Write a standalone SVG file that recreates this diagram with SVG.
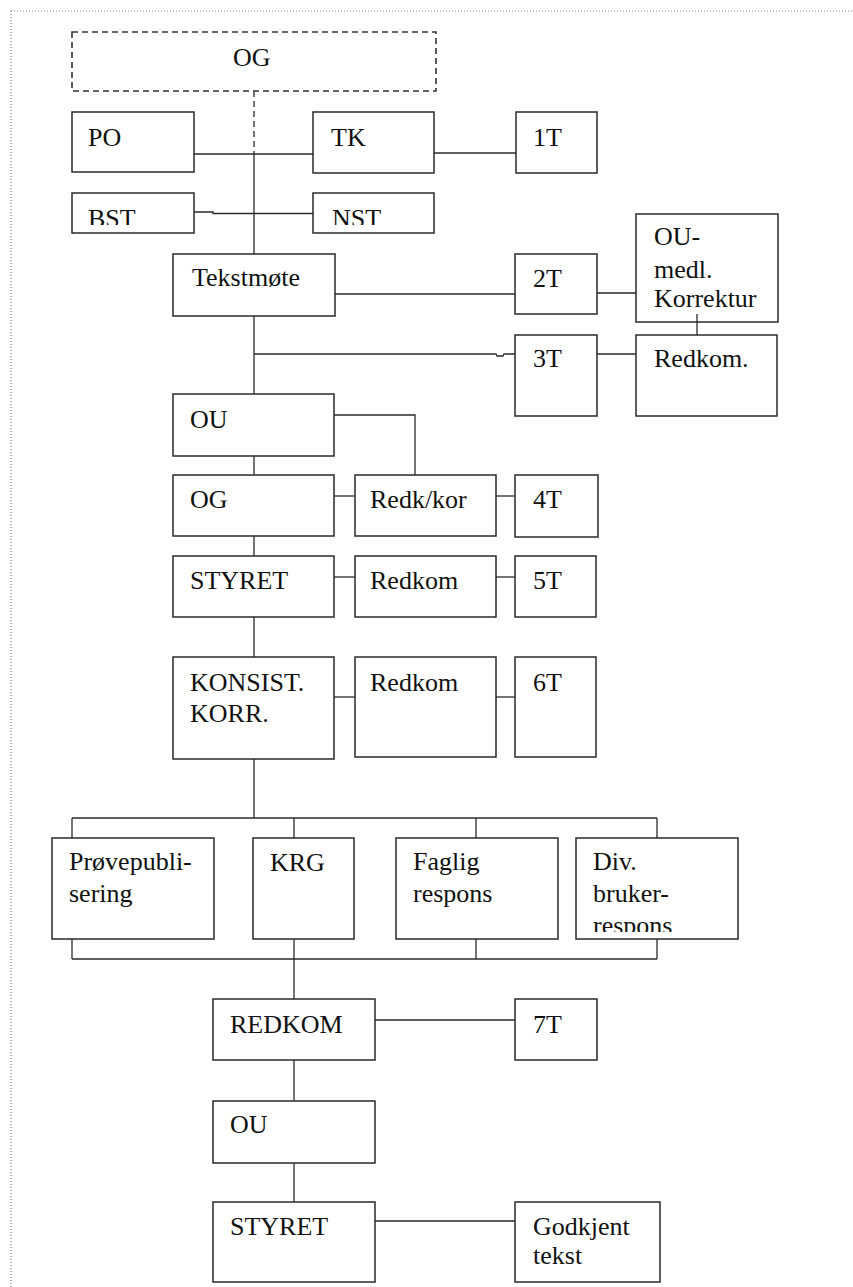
<svg xmlns="http://www.w3.org/2000/svg" width="853" height="1287" viewBox="0 0 853 1287">
<style>
.b{fill:#fff;stroke:#2a2a2a;stroke-width:1.5}
.d{fill:#fff;stroke:#333;stroke-width:1.6;stroke-dasharray:6,4}
.t{font-family:"Liberation Serif","Times New Roman",serif;font-size:26px;fill:#111}
.c line,.c polyline{stroke:#2a2a2a;stroke-width:1.3;fill:none}
</style>
<defs>
<clipPath id="cBST"><rect x="72" y="193" width="122" height="32"/></clipPath>
<clipPath id="cNST"><rect x="313" y="193" width="121" height="32"/></clipPath>
<clipPath id="cDiv"><rect x="576" y="838" width="162" height="94"/></clipPath>
</defs>
<rect width="853" height="1287" fill="#fff"/>
<g id="border" stroke="#888" stroke-width="1.2" stroke-dasharray="1,2" fill="none">
<line x1="11" y1="11" x2="853" y2="11"/>
<line x1="11" y1="11" x2="11" y2="1287"/>
</g>
<g class="c" id="connectors">
<line x1="254" y1="91" x2="254" y2="154" stroke-dasharray="6,4"/>
<line x1="254" y1="154" x2="254" y2="254"/>
<line x1="194" y1="154" x2="316" y2="154"/>
<line x1="434" y1="153" x2="516" y2="153"/>
<polyline points="194,212 213,212 213,213.5 313,213.5"/>
<line x1="335" y1="294" x2="516" y2="294"/>
<line x1="597" y1="293" x2="636" y2="293"/>
<line x1="697" y1="314" x2="697" y2="335"/>
<line x1="254" y1="316" x2="254" y2="394"/>
<polyline points="254,354 496,354 497,356 503,356 504,354 516,354"/>
<line x1="597" y1="354" x2="636" y2="354"/>
<polyline points="334,415 415,415 415,475"/>
<line x1="254" y1="456" x2="254" y2="475"/>
<line x1="334" y1="496" x2="355" y2="496"/>
<line x1="496" y1="496" x2="515" y2="496"/>
<line x1="254" y1="536" x2="254" y2="556"/>
<line x1="334" y1="577" x2="355" y2="577"/>
<line x1="496" y1="577" x2="515" y2="577"/>
<line x1="254" y1="617" x2="254" y2="657"/>
<line x1="334" y1="697" x2="355" y2="697"/>
<line x1="496" y1="697" x2="515" y2="697"/>
<line x1="254" y1="757" x2="254" y2="818"/>
<line x1="72" y1="818" x2="657" y2="818"/>
<line x1="72" y1="818" x2="72" y2="838"/>
<line x1="294" y1="818" x2="294" y2="838"/>
<line x1="476" y1="818" x2="476" y2="838"/>
<line x1="657" y1="818" x2="657" y2="838"/>
<line x1="72" y1="959" x2="657" y2="959"/>
<line x1="72" y1="939" x2="72" y2="959"/>
<line x1="294" y1="939" x2="294" y2="999"/>
<line x1="476" y1="939" x2="476" y2="959"/>
<line x1="657" y1="939" x2="657" y2="959"/>
<line x1="375" y1="1020" x2="515" y2="1020"/>
<line x1="294" y1="1060" x2="294" y2="1101"/>
<line x1="294" y1="1163" x2="294" y2="1202"/>
<line x1="375" y1="1221" x2="515" y2="1221"/>
</g>
<g id="og-top"><rect class="d" x="72" y="32" width="364" height="59"/><text class="t" x="233" y="66">OG</text></g>
<g id="po"><rect class="b" x="72" y="112" width="122" height="60"/><text class="t" x="88" y="146">PO</text></g>
<g id="tk"><rect class="b" x="313" y="112" width="121" height="61"/><text class="t" x="331" y="146">TK</text></g>
<g id="t1"><rect class="b" x="516" y="112" width="81" height="61"/><text class="t" x="533" y="146">1T</text></g>
<g id="bst"><rect class="b" x="72" y="193" width="122" height="40"/><text class="t" x="88" y="227" clip-path="url(#cBST)">BST</text></g>
<g id="nst"><rect class="b" x="313" y="193" width="121" height="40"/><text class="t" x="332" y="227" clip-path="url(#cNST)">NST</text></g>
<g id="tekstmote"><rect class="b" x="173" y="254" width="162" height="62"/><text class="t" x="192" y="286">Tekstmøte</text></g>
<g id="t2"><rect class="b" x="515" y="254" width="82" height="60"/><text class="t" x="533" y="287">2T</text></g>
<g id="oumedl"><rect class="b" x="636" y="214" width="142" height="108"/><text class="t" x="654" y="245">OU-</text><text class="t" x="654" y="278">medl.</text><text class="t" x="654" y="307">Korrektur</text></g>
<line x1="697" y1="314" x2="697" y2="322" stroke="#2a2a2a" stroke-width="1.3"/>
<g id="t3"><rect class="b" x="515" y="335" width="82" height="81"/><text class="t" x="533" y="367">3T</text></g>
<g id="redkom1"><rect class="b" x="636" y="335" width="141" height="81"/><text class="t" x="654" y="367">Redkom.</text></g>
<g id="ou1"><rect class="b" x="173" y="394" width="161" height="62"/><text class="t" x="190" y="428">OU</text></g>
<g id="og2"><rect class="b" x="173" y="475" width="161" height="61"/><text class="t" x="190" y="508">OG</text></g>
<g id="redkkor"><rect class="b" x="355" y="475" width="141" height="61"/><text class="t" x="370" y="508">Redk/kor</text></g>
<g id="t4"><rect class="b" x="515" y="475" width="83" height="62"/><text class="t" x="533" y="508">4T</text></g>
<g id="styret1"><rect class="b" x="173" y="556" width="161" height="61"/><text class="t" x="190" y="589">STYRET</text></g>
<g id="redkom2"><rect class="b" x="355" y="556" width="141" height="61"/><text class="t" x="370" y="589">Redkom</text></g>
<g id="t5"><rect class="b" x="515" y="556" width="81" height="61"/><text class="t" x="533" y="589">5T</text></g>
<g id="konsist"><rect class="b" x="173" y="657" width="161" height="102"/><text class="t" x="190" y="691">KONSIST.</text><text class="t" x="190" y="722">KORR.</text></g>
<g id="redkom3"><rect class="b" x="355" y="657" width="141" height="100"/><text class="t" x="370" y="691">Redkom</text></g>
<g id="t6"><rect class="b" x="515" y="657" width="81" height="100"/><text class="t" x="533" y="691">6T</text></g>
<g id="prove"><rect class="b" x="52" y="838" width="162" height="101"/><text class="t" x="69" y="870">Prøvepubli-</text><text class="t" x="69" y="902">sering</text></g>
<g id="krg"><rect class="b" x="253" y="838" width="101" height="101"/><text class="t" x="270" y="871">KRG</text></g>
<g id="faglig"><rect class="b" x="396" y="838" width="162" height="101"/><text class="t" x="413" y="870">Faglig</text><text class="t" x="413" y="902">respons</text></g>
<g id="div"><rect class="b" x="576" y="838" width="162" height="101"/><text class="t" x="593" y="870">Div.</text><text class="t" x="593" y="902">bruker-</text><text class="t" x="593" y="934" clip-path="url(#cDiv)">respons</text></g>
<g id="redkom4"><rect class="b" x="213" y="999" width="162" height="61"/><text class="t" x="230" y="1033">REDKOM</text></g>
<g id="t7"><rect class="b" x="515" y="999" width="82" height="61"/><text class="t" x="533" y="1033">7T</text></g>
<g id="ou2"><rect class="b" x="213" y="1101" width="162" height="62"/><text class="t" x="230" y="1133">OU</text></g>
<g id="styret2"><rect class="b" x="213" y="1202" width="162" height="80"/><text class="t" x="230" y="1235">STYRET</text></g>
<g id="godkjent"><rect class="b" x="515" y="1202" width="145" height="80"/><text class="t" x="533" y="1235">Godkjent</text><text class="t" x="533" y="1264">tekst</text></g>
</svg>
